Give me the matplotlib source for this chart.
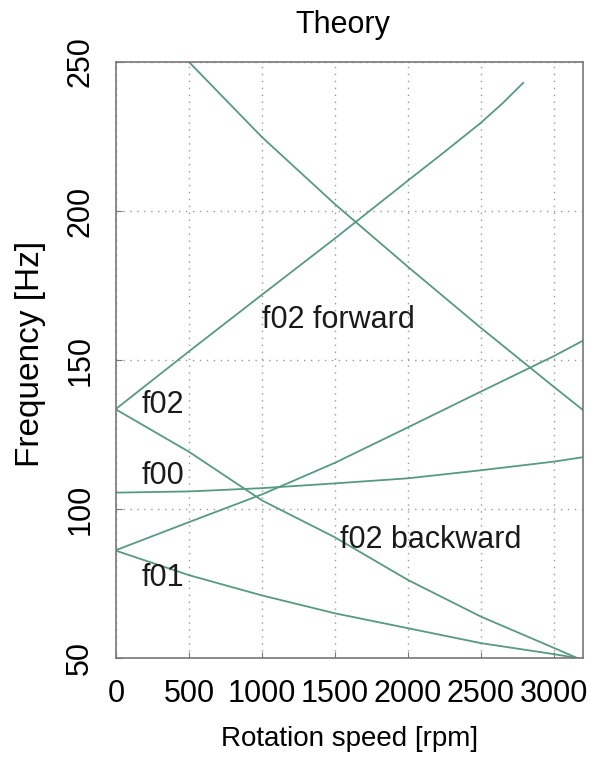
import numpy as np
import matplotlib
matplotlib.use("Agg")
import matplotlib.pyplot as plt

plt.rcParams['font.family'] = ['Liberation Sans', 'DejaVu Sans']

# curves (rpm, Hz)
rpm_fwd = [0, 500, 1000, 1500, 2000, 2250, 2500, 2650, 2790]
hz_fwd = [133.6, 152.9, 171.9, 190.8, 210.2, 219.8, 229.6, 236.2, 243.0]

rpm_top = [500, 1000, 1500, 2000, 2500, 3000, 3200]
hz_top = [250.0, 224.8, 202.3, 181.3, 160.8, 141.0, 133.2]

rpm_rise = [0, 500, 1000, 1500, 2000, 2500, 3000, 3200]
hz_rise = [86.2, 95.6, 104.9, 115.5, 127.4, 139.4, 151.3, 156.5]

rpm_f00 = [0, 500, 1000, 1500, 2000, 2500, 3000, 3200]
hz_f00 = [105.5, 105.9, 107.0, 108.6, 110.3, 113.0, 115.9, 117.4]

rpm_bwd = [0, 500, 1000, 1500, 2000, 2500, 3000, 3160]
hz_bwd = [133.4, 119.2, 102.9, 90.5, 76.2, 63.9, 53.4, 50.0]

rpm_f01 = [0, 500, 1000, 1500, 2000, 2500, 3000, 3160]
hz_f01 = [86.0, 77.8, 71.0, 65.0, 60.0, 55.0, 51.3, 50.0]

labels = ["f02 forward", "f02", "f00", "f02 backward", "f01"]
label_x = [1000, 178, 178, 1534, 178]
label_y = [163.5, 135.0, 111.0, 89.6, 76.8]

col = "#579a80"

fig = plt.figure(figsize=(5.99, 7.6), dpi=100)
ax = fig.add_axes([0.1937, 0.1342, 0.7796, 0.7842])

for xs, ys in [(rpm_fwd, hz_fwd), (rpm_top, hz_top), (rpm_rise, hz_rise),
               (rpm_f00, hz_f00), (rpm_bwd, hz_bwd), (rpm_f01, hz_f01)]:
    ax.plot(xs, ys, color=col, lw=1.3)

for t, x, y in zip(labels, label_x, label_y):
    ax.text(x, y, t, fontsize=22, va='center', ha='left', color='#1a1a1a')

ax.set_xlim(0, 3200)
ax.set_ylim(50, 250)
ax.set_xticks([0, 500, 1000, 1500, 2000, 2500, 3000])
ax.set_yticks([50, 100, 150, 200, 250])
ax.grid(True, linestyle=(0, (1, 4)), color='#999999', lw=1)
ax.tick_params(direction='in', length=4, color='#777777', labelsize=22, pad=15)
for lab in ax.get_yticklabels():
    lab.set_rotation(90)
    lab.set_va('center')
for s in ax.spines.values():
    s.set_color('#777777')
    s.set_linewidth(1.2)

# title placed by hand so the rotated "250" label doesn't push it up
fig.text(343 / 599, 1 - 25 / 760, "Theory", fontsize=22, ha='center', va='center')
ax.set_xlabel("Rotation speed [rpm]", fontsize=20, labelpad=12)
ax.set_ylabel("Frequency [Hz]", fontsize=24, labelpad=12)
ax.yaxis.set_label_coords(-0.15, 0.51)

fig.savefig("out.png", dpi=100)
